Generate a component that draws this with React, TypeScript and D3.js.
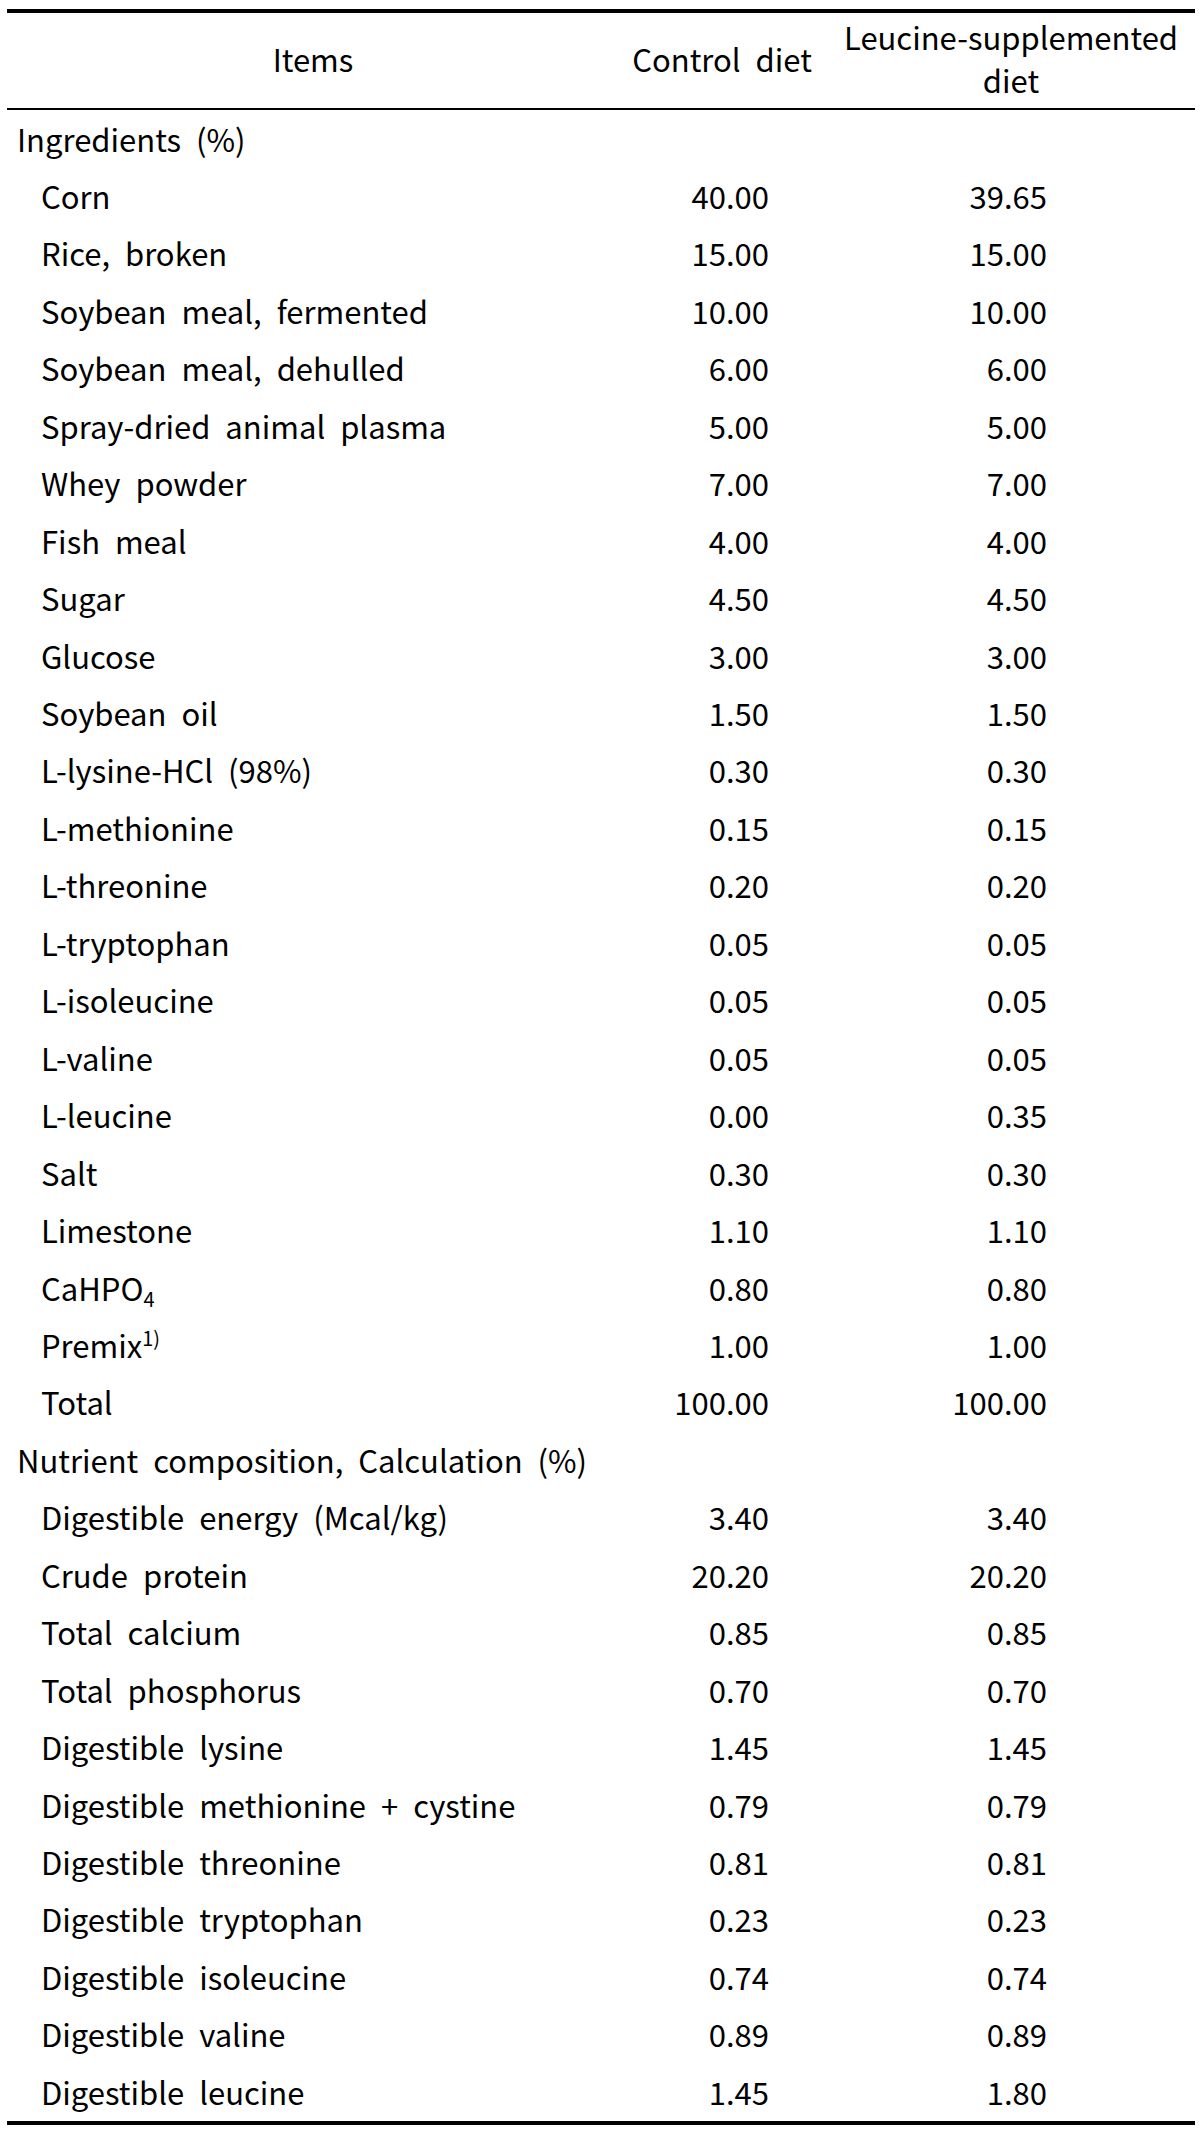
import React, { useEffect, useRef } from "react";
import * as d3 from "d3";

// table content
const headerItems = "Items";
const headerControl = "Control diet";
const headerLeucine = ["Leucine-supplemented", "diet"];

const ingredientSection = "Ingredients (%)";
const ingredientNames = [
  "Corn",
  "Rice, broken",
  "Soybean meal, fermented",
  "Soybean meal, dehulled",
  "Spray-dried animal plasma",
  "Whey powder",
  "Fish meal",
  "Sugar",
  "Glucose",
  "Soybean oil",
  "L-lysine-HCl (98%)",
  "L-methionine",
  "L-threonine",
  "L-tryptophan",
  "L-isoleucine",
  "L-valine",
  "L-leucine",
  "Salt",
  "Limestone",
  "CaHPO_4",
  "Premix^1)",
  "Total",
];
const ingredientControl = [
  40.0, 15.0, 10.0, 6.0, 5.0, 7.0, 4.0, 4.5, 3.0, 1.5, 0.3, 0.15, 0.2, 0.05,
  0.05, 0.05, 0.0, 0.3, 1.1, 0.8, 1.0, 100.0,
];
const ingredientLeucine = [
  39.65, 15.0, 10.0, 6.0, 5.0, 7.0, 4.0, 4.5, 3.0, 1.5, 0.3, 0.15, 0.2, 0.05,
  0.05, 0.05, 0.35, 0.3, 1.1, 0.8, 1.0, 100.0,
];

const nutrientSection = "Nutrient composition, Calculation (%)";
const nutrientNames = [
  "Digestible energy (Mcal/kg)",
  "Crude protein",
  "Total calcium",
  "Total phosphorus",
  "Digestible lysine",
  "Digestible methionine + cystine",
  "Digestible threonine",
  "Digestible tryptophan",
  "Digestible isoleucine",
  "Digestible valine",
  "Digestible leucine",
];
const nutrientControl = [3.4, 20.2, 0.85, 0.7, 1.45, 0.79, 0.81, 0.23, 0.74, 0.89, 1.45];
const nutrientLeucine = [3.4, 20.2, 0.85, 0.7, 1.45, 0.79, 0.81, 0.23, 0.74, 0.89, 1.8];

const W = 1200;
const H = 2134;
const FONT = "'Noto Sans CJK KR', 'Noto Sans', sans-serif";

const App = () => {
  const ref = useRef<SVGSVGElement | null>(null);

  useEffect(() => {
    document.body.style.margin = "0";
    const svg = d3.select(ref.current);
    svg.selectAll("*").remove();

    const fmt = d3.format(".2f");

    // one entry per table row, section headings included
    const rows: { label: string; section: boolean; c?: number; l?: number }[] = [];
    rows.push({ label: ingredientSection, section: true });
    ingredientNames.forEach((n, i) =>
      rows.push({ label: n, section: false, c: ingredientControl[i], l: ingredientLeucine[i] })
    );
    rows.push({ label: nutrientSection, section: true });
    nutrientNames.forEach((n, i) =>
      rows.push({ label: n, section: false, c: nutrientControl[i], l: nutrientLeucine[i] })
    );

    const y = d3.scaleLinear().domain([0, rows.length - 1]).range([151.5, 2104.8]);
    const x = d3
      .scaleOrdinal<string, number>()
      .domain(["section", "item", "control", "leucine"])
      .range([17, 41, 769, 1047]);

    const g = svg
      .append("g")
      .attr("font-family", FONT)
      .attr("font-size", 31)
      .attr("fill", "#000");

    // rules
    svg.append("line").attr("x1", 7).attr("x2", 1195).attr("y1", 11).attr("y2", 11)
      .attr("stroke", "#000").attr("stroke-width", 4);
    svg.append("line").attr("x1", 7).attr("x2", 1195).attr("y1", 109).attr("y2", 109)
      .attr("stroke", "#000").attr("stroke-width", 1.8);
    svg.append("line").attr("x1", 7).attr("x2", 1195).attr("y1", 2123).attr("y2", 2123)
      .attr("stroke", "#000").attr("stroke-width", 4);

    // header
    g.append("text").attr("x", 313).attr("y", 72).attr("text-anchor", "middle").text(headerItems);
    g.append("text").attr("x", 722).attr("y", 72).attr("text-anchor", "middle")
      .attr("word-spacing", 8).text(headerControl);
    headerLeucine.forEach((t, i) =>
      g.append("text").attr("x", 1011).attr("y", 50 + i * 43).attr("text-anchor", "middle").text(t)
    );

    // labels, with _sub and ^sup markers
    const labels = g
      .selectAll("text.label")
      .data(rows)
      .enter()
      .append("text")
      .attr("class", "label")
      .attr("x", (d) => (d.section ? x("section") : x("item")))
      .attr("y", (_, i) => y(i))
      .attr("word-spacing", 8);

    labels.each(function (d) {
      const t = d3.select(this);
      const m = d.label.match(/^(.*?)([_^])(.*)$/);
      if (!m) {
        t.text(d.label);
        return;
      }
      t.append("tspan").text(m[1]);
      t.append("tspan")
        .attr("font-size", 20)
        .attr("dy", m[2] === "_" ? 6 : -12)
        .text(m[3]);
    });

    // values
    const valueRows = rows.map((r, i) => ({ ...r, i })).filter((r) => !r.section);
    g.selectAll("text.ctrl")
      .data(valueRows)
      .enter()
      .append("text")
      .attr("class", "ctrl")
      .attr("x", x("control"))
      .attr("y", (d) => y(d.i))
      .attr("text-anchor", "end")
      .text((d) => fmt(d.c as number));
    g.selectAll("text.leu")
      .data(valueRows)
      .enter()
      .append("text")
      .attr("class", "leu")
      .attr("x", x("leucine"))
      .attr("y", (d) => y(d.i))
      .attr("text-anchor", "end")
      .text((d) => fmt(d.l as number));
  }, []);

  return <svg ref={ref} width={W} height={H} style={{ display: "block", background: "#fff" }} />;
};

export default App;
